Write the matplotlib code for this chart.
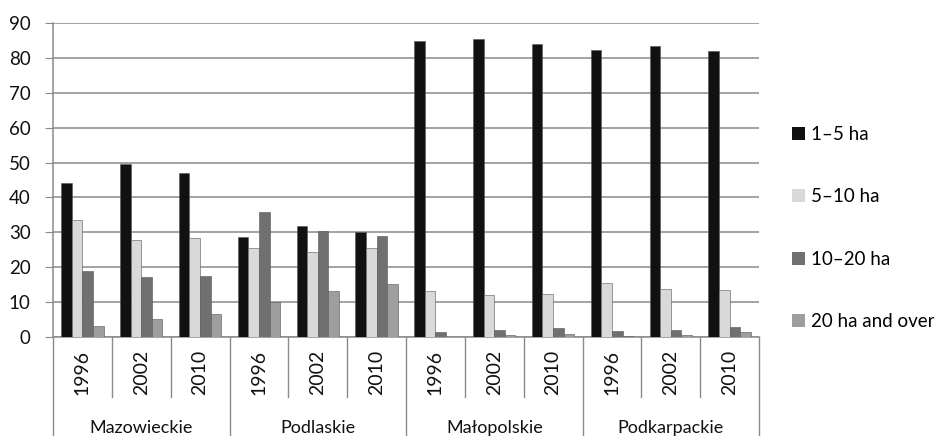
import numpy as np
import matplotlib
matplotlib.use("Agg")
import matplotlib.pyplot as plt
import matplotlib.transforms as mtransforms

plt.rcParams['font.family'] = ['Lato', 'DejaVu Sans']

regions = ["Mazowieckie", "Podlaskie", "Małopolskie", "Podkarpackie"]
years = ["1996", "2002", "2010"]
series_names = ["1–5 ha", "5–10 ha", "10–20 ha", "20 ha and over"]

# values per (region, year), in order of regions x years
ha_1_5 = [44.1, 49.6, 47.0, 28.8, 31.9, 30.1, 84.9, 85.5, 84.1, 82.2, 83.4, 82.1]
ha_5_10 = [33.4, 27.9, 28.5, 25.4, 24.5, 25.6, 13.1, 11.9, 12.2, 15.6, 13.9, 13.4]
ha_10_20 = [18.9, 17.1, 17.6, 35.7, 30.4, 29.0, 1.5, 1.9, 2.7, 1.7, 1.9, 3.0]
ha_20_over = [3.2, 5.1, 6.7, 10.0, 13.1, 15.3, 0.1, 0.5, 0.8, 0.2, 0.5, 1.3]

colors = ["#111111", "#d9d9d9", "#707070", "#9e9e9e"]

W, H = 947, 436
fig = plt.figure(figsize=(W / 100, H / 100), dpi=100)
ax = fig.add_axes([53 / W, (H - 337) / H, 706 / W, 314 / H])

series = [ha_1_5, ha_5_10, ha_10_20, ha_20_over]
n = len(ha_1_5)
x = np.arange(n)
bw = 0.18
for i, (vals, c, name) in enumerate(zip(series, colors, series_names)):
    ax.bar(x + (i - 1.5) * bw, vals, bw, color=c, edgecolor="#555555",
           linewidth=0.4, label=name, zorder=3)

ax.set_xlim(-0.5, n - 0.5)
ax.set_ylim(0, 90)
ax.set_yticks(range(0, 91, 10))
ax.yaxis.grid(True, color="#8a8a8a", linewidth=1.1, zorder=0)
ax.tick_params(axis="y", length=6, color="#8a8a8a", labelsize=13.5,
               pad=10, labelcolor="#111111")
ax.set_xticks([])
for s in ["top", "right"]:
    ax.spines[s].set_visible(False)
for s in ["left", "bottom"]:
    ax.spines[s].set_color("#8a8a8a")
    ax.spines[s].set_linewidth(1.1)

# multi-level category axis
trans = mtransforms.blended_transform_factory(ax.transData, fig.transFigure)
y_axis = (H - 337) / H
y_inner = (H - 397) / H
for k in range(n + 1):
    b = k - 0.5
    bottom = 0.0 if k % 3 == 0 else y_inner
    ax.plot([b, b], [y_axis, bottom], color="#8a8a8a", linewidth=1.0,
            transform=trans, clip_on=False)

for k in range(n):
    ax.text(k, (H - 372.5) / H, years[k % 3], rotation=90, ha="center",
            va="center", fontsize=14, transform=trans, color="#111111")

for j, r in enumerate(regions):
    ax.text(j * 3 + 1, (H - 432.5) / H, r, ha="center", va="baseline",
            fontsize=13, transform=trans, color="#111111")

leg = fig.legend(loc="upper left", bbox_to_anchor=(792 / W, (H - 126) / H),
                 frameon=False, fontsize=13.5, handlelength=0.7,
                 handleheight=0.7, handletextpad=0.3, labelspacing=2.42,
                 borderaxespad=0, borderpad=0)
for h in leg.legend_handles:
    h.set_edgecolor("none")

fig.savefig("out.png", dpi=100)
